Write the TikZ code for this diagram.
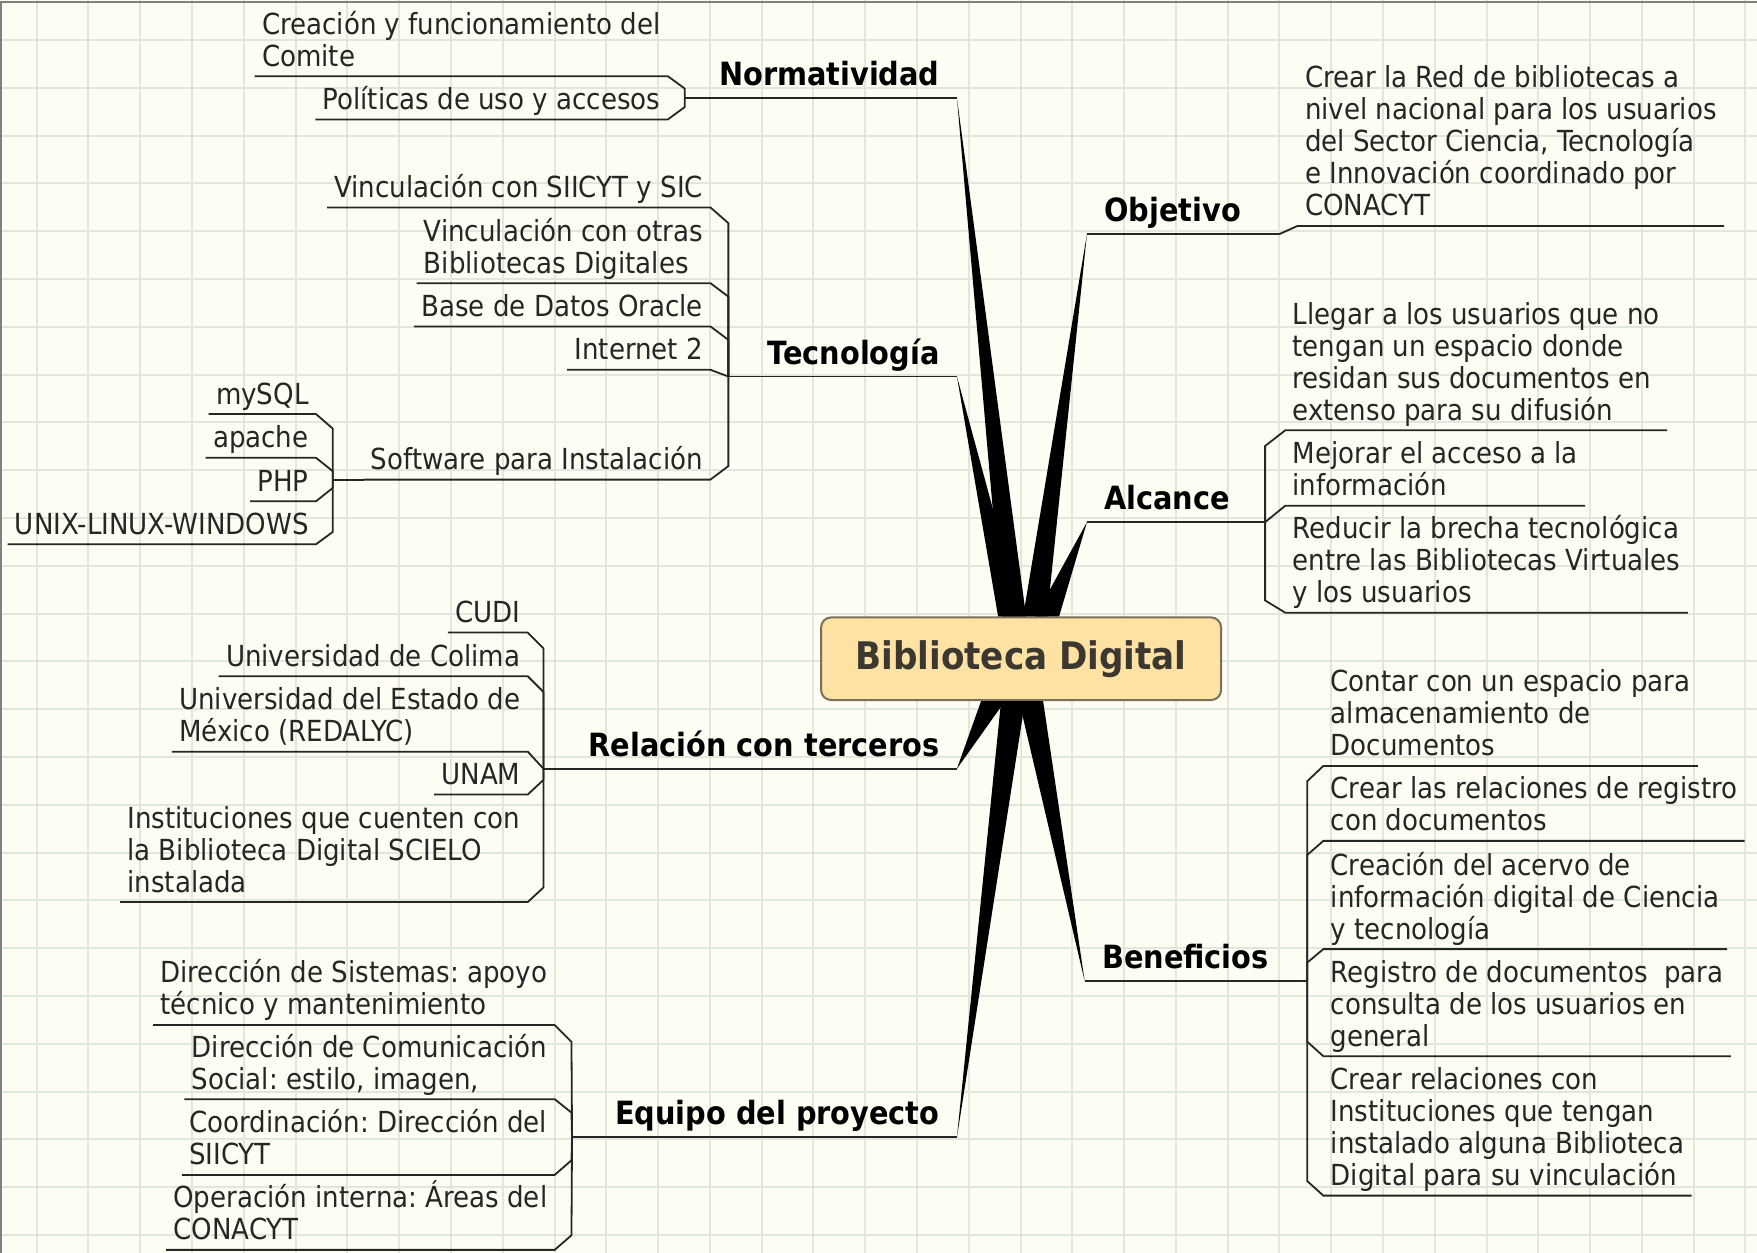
\documentclass[tikz,border=0pt]{standalone}
\usepackage{fontspec}
\setmainfont{DejaVu Sans Condensed}
\frenchspacing
\definecolor{paper}{RGB}{253,253,244}
\definecolor{gridc}{RGB}{226,231,221}
\definecolor{ink}{RGB}{38,38,38}
\definecolor{hubfill}{RGB}{253,226,163}
\definecolor{hubline}{RGB}{122,112,92}
\definecolor{hubtext}{RGB}{60,56,48}
\newcommand{\leaffont}{\fontsize{14.5pt}{16pt}\selectfont}
\newcommand{\topicfont}{\bfseries\fontsize{16pt}{19pt}\selectfont}
\newcommand{\hubfont}{\bfseries\fontsize{19pt}{22pt}\selectfont}
\newcommand{\spoke}[2]{\fill[spoke] (#1) -- ([xshift=-6pt]#2) -- ([xshift=6pt]#2) -- cycle;}

\begin{document}
\begin{tikzpicture}[x=0.5603pt, y=-0.5603pt,
    leaf/.style={font=\leaffont, text=ink, align=left, inner xsep=3.5pt, inner ysep=0pt, execute at end node=\strut},
    topic/.style={font=\topicfont, text=black, inner xsep=8.5pt, inner ysep=6pt, text depth=0pt},
    hubbox/.style={draw=hubline, line width=1pt, fill=hubfill, rounded corners=5pt, minimum width=200pt, minimum height=41.3pt, font=\hubfont, text=hubtext},
    link/.style={draw=ink, line width=0.9pt},
    spoke/.style={fill=black},
    gridline/.style={draw=gridc, line width=1pt}]
\useasboundingbox (0,0) rectangle (1568,1118);
\fill[paper] (0,0) rectangle (1568,1118);
\foreach \gx in {0,...,33} \draw[gridline] ({32.75+46.21*\gx},0) -- ++(0,1118);
\foreach \gy in {0,...,25} \draw[gridline] (0,{35.6+42.66*\gy}) -- ++(1568,0);
\draw[gray, line width=1pt] (1,1118) -- (1,1.5) -- (1568,1.5);

\node[hubbox] (core) at (911.25,587.85) {Biblioteca Digital};

\node[topic, anchor=south east] (norm) at (854,87.5) {Normatividad};
\node[topic, anchor=south east] (tec) at (854,336) {Tecnología};
\node[topic, anchor=south east] (rel) at (854,686) {Relación con terceros};
\node[topic, anchor=south east] (team) at (854,1015) {Equipo del proyecto};
\node[topic, anchor=south west] (goal) at (970,209) {Objetivo};
\node[topic, anchor=south west] (reach) at (970,466) {Alcance};
\node[topic, anchor=south west] (gain) at (968,875.6) {Beneficios};

\coordinate (kNorm) at ([xshift=-3.5pt]core.north);
\coordinate (kTec) at ([xshift=-5.5pt]core.north);
\coordinate (kGoal) at ([xshift=7pt]core.north);
\coordinate (kReach) at ([xshift=13pt]core.north);
\coordinate (kRel) at ([xshift=-14pt]core.south);
\coordinate (kTeam) at ([xshift=-4pt]core.south);
\coordinate (kGain) at ([xshift=5pt]core.south);
\spoke{norm.south east}{kNorm}
\spoke{tec.south east}{kTec}
\spoke{goal.south west}{kGoal}
\spoke{reach.south west}{kReach}
\spoke{rel.south east}{kRel}
\spoke{team.south east}{kTeam}
\spoke{gain.south west}{kGain}

\coordinate (normJ) at (611,87.5);
\node[leaf, anchor=south east] (norm1) at (596,68) {Creación y funcionamiento del\\Comite};
\node[leaf, anchor=south east] (norm2) at (596,106.6) {Políticas de uso y accesos};
\draw[link] (norm.south east) -- (normJ);
\draw[link] (norm1.south west) -- (norm1.south east) -- ++(15,11) -- (normJ);
\draw[link] (norm2.south west) -- (norm2.south east) -- ++(15,-11) -- (normJ);

\coordinate (tecJ) at (650,336);
\node[leaf, anchor=south east] (tec1) at (634,185.1) {Vinculación con SIICYT y SIC};
\node[leaf, anchor=south east] (tec2) at (634,252.7) {Vinculación con otras\\Bibliotecas Digitales};
\node[leaf, anchor=south east] (tec3) at (634,291.3) {Base de Datos Oracle};
\node[leaf, anchor=south east] (tec4) at (634,330) {Internet 2};
\node[leaf, anchor=south east] (soft) at (634,428) {Software para Instalación};
\draw[link] (tec.south east) -- (tecJ);
\draw[link] (tec1.south west) -- (tec1.south east) -- ++(16,14) -- (tecJ);
\draw[link] (tec2.south west) -- (tec2.south east) -- ++(16,12) -- (tecJ);
\draw[link] (tec3.south west) -- (tec3.south east) -- ++(16,12) -- (tecJ);
\draw[link] (tec4.south west) -- (tec4.south east) -- (tecJ);
\draw[link] (soft.south west) -- (soft.south east) -- ++(16,-12) -- (tecJ);

\coordinate (softJ) at (297,428);
\node[leaf, anchor=south east] (sw1) at (282,369.5) {mySQL};
\node[leaf, anchor=south east] (sw2) at (282,408.5) {apache};
\node[leaf, anchor=south east] (sw3) at (282,447.4) {PHP};
\node[leaf, anchor=south east] (sw4) at (282,485.7) {UNIX-LINUX-WINDOWS};
\draw[link] (soft.south west) -- (softJ);
\draw[link] (sw1.south west) -- (sw1.south east) -- ++(15,13) -- (softJ);
\draw[link] (sw2.south west) -- (sw2.south east) -- ++(15,12) -- (softJ);
\draw[link] (sw3.south west) -- (sw3.south east) -- ++(15,-12) -- (softJ);
\draw[link] (sw4.south west) -- (sw4.south east) -- ++(15,-11) -- (softJ);

\coordinate (relJ) at (485,686);
\node[leaf, anchor=south east] (rel1) at (471,564.5) {CUDI};
\node[leaf, anchor=south east] (rel2) at (471,603.5) {Universidad de Colima};
\node[leaf, anchor=south east] (rel3) at (471,670.8) {Universidad del Estado de\\México (REDALYC)};
\node[leaf, anchor=south east] (rel4) at (471,709) {UNAM};
\node[leaf, anchor=south east] (rel5) at (471,805) {Instituciones que cuenten con\\la Biblioteca Digital SCIELO\\instalada};
\draw[link] (rel.south east) -- (relJ);
\draw[link] (rel1.south west) -- (rel1.south east) -- ++(14,14) -- (relJ);
\draw[link] (rel2.south west) -- (rel2.south east) -- ++(14,14) -- (relJ);
\draw[link] (rel3.south west) -- (rel3.south east) -- (relJ);
\draw[link] (rel4.south west) -- (rel4.south east) -- ++(14,-13) -- (relJ);
\draw[link] (rel5.south west) -- (rel5.south east) -- ++(14,-13) -- (relJ);

\coordinate (teamJ) at (510.5,1015);
\node[leaf, anchor=south east] (team1) at (495,914.7) {Dirección de Sistemas: apoyo\\técnico y mantenimiento};
\node[leaf, anchor=south east] (team2) at (495,980.9) {Dirección de Comunicación\\Social: estilo, imagen,};
\node[leaf, anchor=south east] (team3) at (495,1048.5) {Coordinación: Dirección del\\SIICYT};
\node[leaf, anchor=south east] (team4) at (495,1115.4) {Operación interna: Áreas del\\CONACYT};
\draw[link] (team.south east) -- (teamJ);
\draw[link] (team1.south west) -- (team1.south east) -- ++(15,15) -- (teamJ);
\draw[link] (team2.south west) -- (team2.south east) -- ++(15,12) -- (teamJ);
\draw[link] (team3.south west) -- (team3.south east) -- ++(15,-13) -- (teamJ);
\draw[link] (team4.south west) -- (team4.south east) -- ++(15,-13) -- (teamJ);

\coordinate (goalJ) at (1141.5,209);
\node[leaf, anchor=south west] (goal1) at (1158,201.6) {Crear la Red de bibliotecas a\\nivel nacional para los usuarios\\del Sector Ciencia, Tecnología\\e Innovación coordinado por\\CONACYT};
\draw[link] (goal.south west) -- (goalJ);
\draw[link] (goal1.south east) -- (goal1.south west) -- (goalJ);

\coordinate (reachJ) at (1129,466);
\node[leaf, anchor=south west] (reach1) at (1147,384) {Llegar a los usuarios que no\\tengan un espacio donde\\residan sus documentos en\\extenso para su difusión};
\node[leaf, anchor=south west] (reach2) at (1147,451.3) {Mejorar el acceso a la\\información};
\node[leaf, anchor=south west] (reach3) at (1147,546.8) {Reducir la brecha tecnológica\\entre las Bibliotecas Virtuales\\y los usuarios};
\draw[link] (reach.south west) -- (reachJ);
\draw[link] (reach1.south east) -- (reach1.south west) -- ++(-18,14) -- (reachJ);
\draw[link] (reach2.south east) -- (reach2.south west) -- (reachJ);
\draw[link] (reach3.south east) -- (reach3.south west) -- ++(-18,-11) -- (reachJ);

\coordinate (gainJ) at (1166.6,875.6);
\node[leaf, anchor=south west] (gain1) at (1181,683.5) {Contar con un espacio para\\almacenamiento de\\Documentos};
\node[leaf, anchor=south west] (gain2) at (1181,750.4) {Crear las relaciones de registro\\con documentos};
\node[leaf, anchor=south west] (gain3) at (1181,847) {Creación del acervo de\\información digital de Ciencia\\y tecnología};
\node[leaf, anchor=south west] (gain4) at (1181,942.6) {Registro de documentos~ para\\consulta de los usuarios en\\general};
\node[leaf, anchor=south west] (gain5) at (1181,1067) {Crear relaciones con\\Instituciones que tengan\\instalado alguna Biblioteca\\Digital para su vinculación};
\draw[link] (gain.south west) -- (gainJ);
\draw[link] (gain1.south east) -- (gain1.south west) -- ++(-14.4,13.7) -- (gainJ);
\draw[link] (gain2.south east) -- (gain2.south west) -- ++(-14.4,12.6) -- (gainJ);
\draw[link] (gain3.south east) -- (gain3.south west) -- ++(-14.4,12) -- (gainJ);
\draw[link] (gain4.south east) -- (gain4.south west) -- ++(-14.4,-13) -- (gainJ);
\draw[link] (gain5.south east) -- (gain5.south west) -- ++(-14.4,-13) -- (gainJ);
\end{tikzpicture}
\end{document}
